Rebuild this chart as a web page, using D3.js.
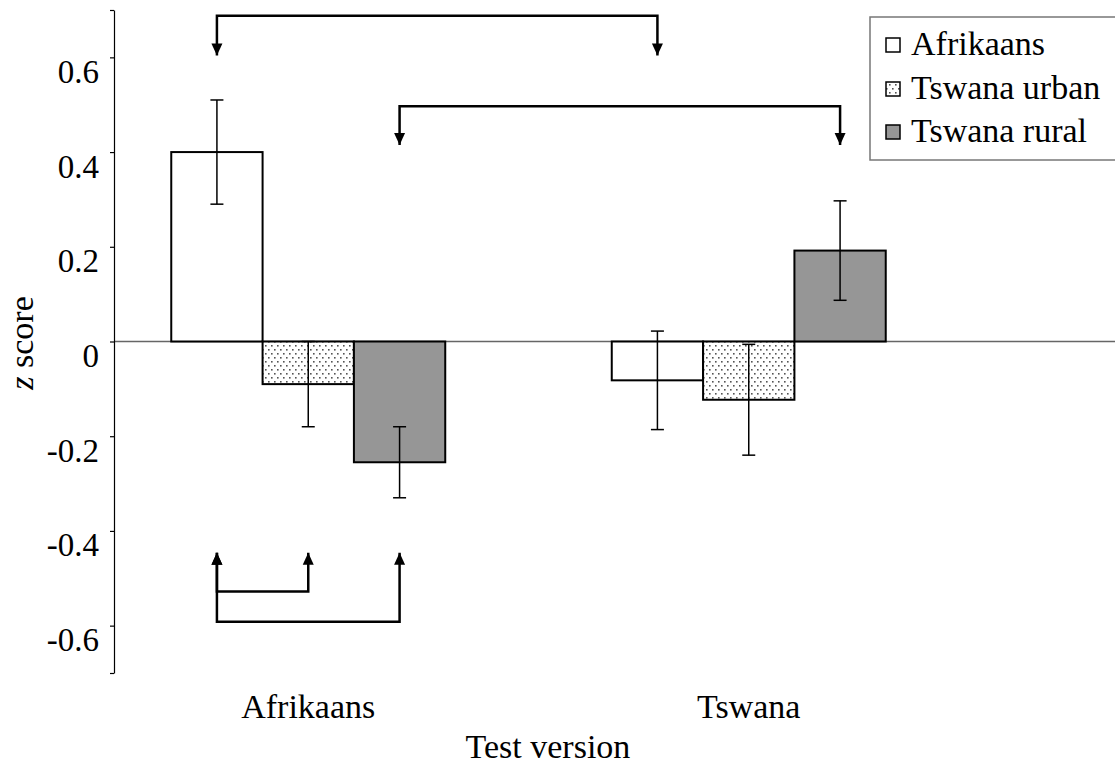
<!DOCTYPE html>
<html>
<head>
<meta charset="utf-8">
<script src="https://cdn.jsdelivr.net/npm/d3@7"></script>
<style>
  body { margin: 0; background: #fff; }
  text { font-family: "Liberation Serif", "Times New Roman", serif; fill: #000; }
</style>
</head>
<body>
<div id="chart"></div>
<script>
// groups on the x axis and the three listener groups
var testVersions = ["Afrikaans", "Tswana"];
var listeners = ["Afrikaans", "Tswana urban", "Tswana rural"];

// mean z scores, one array per listener group (Afrikaans test, Tswana test)
var afrikaansMeans = [0.40, -0.082];
var urbanMeans = [-0.09, -0.123];
var ruralMeans = [-0.255, 0.192];

// standard errors
var afrikaansErr = [0.11, 0.104];
var urbanErr = [0.09, 0.117];
var ruralErr = [0.075, 0.105];

var yTicks = [-0.7, -0.6, -0.4, -0.2, 0, 0.2, 0.4, 0.6, 0.7];

// significance brackets: from/to are [test version, listener], level and tip in z units
var brackets = [
  { from: ["Afrikaans", "Afrikaans"], to: ["Tswana", "Afrikaans"], level: 0.688, tip: 0.604 },
  { from: ["Afrikaans", "Tswana rural"], to: ["Tswana", "Tswana rural"], level: 0.497, tip: 0.415 },
  { from: ["Afrikaans", "Afrikaans"], to: ["Afrikaans", "Tswana urban"], level: -0.528, tip: -0.446 },
  { from: ["Afrikaans", "Afrikaans"], to: ["Afrikaans", "Tswana rural"], level: -0.592, tip: -0.446 }
];

var means = [afrikaansMeans, urbanMeans, ruralMeans];
var errs = [afrikaansErr, urbanErr, ruralErr];
var data = [];
testVersions.forEach(function (t, i) {
  listeners.forEach(function (l, j) {
    data.push({ test: t, listener: l, value: means[j][i], err: errs[j][i] });
  });
});

var width = 1115;
var height = 775;

var svg = d3.select("#chart").append("svg")
  .attr("width", width)
  .attr("height", height);

var defs = svg.append("defs");

var dots = defs.append("pattern")
  .attr("id", "dots")
  .attr("patternUnits", "userSpaceOnUse")
  .attr("width", 6)
  .attr("height", 8);
dots.append("rect").attr("width", 6).attr("height", 8).attr("fill", "#fff");
dots.append("rect").attr("x", 1).attr("y", 1).attr("width", 1.6).attr("height", 1.6).attr("fill", "#555");
dots.append("rect").attr("x", 4).attr("y", 5).attr("width", 1.6).attr("height", 1.6).attr("fill", "#555");

defs.append("marker")
  .attr("id", "head")
  .attr("markerUnits", "userSpaceOnUse")
  .attr("viewBox", "0 0 12 12")
  .attr("refX", 12)
  .attr("refY", 6)
  .attr("markerWidth", 12)
  .attr("markerHeight", 12)
  .attr("orient", "auto-start-reverse")
  .append("path")
  .attr("d", "M0,0.5 L12,6 L0,11.5 Z")
  .attr("fill", "#000");

var fills = {
  "Afrikaans": "#fff",
  "Tswana urban": "url(#dots)",
  "Tswana rural": "#969696"
};

var yScale = d3.scaleLinear([-0.7, 0.7], [673, 10]);

var xScale = d3.scaleBand(testVersions, [88, 969])
  .paddingInner(0.378)
  .paddingOuter(0.189);

var xInner = d3.scaleBand(listeners, [0, xScale.bandwidth()]);

function barCenter(t, l) {
  return xScale(t) + xInner(l) + xInner.bandwidth() / 2;
}

// zero line
svg.append("line")
  .attr("x1", 114)
  .attr("x2", width)
  .attr("y1", yScale(0))
  .attr("y2", yScale(0))
  .attr("stroke", "#666")
  .attr("stroke-width", 1.5);

// y axis
var yAxis = d3.axisLeft(yScale)
  .tickValues(yTicks)
  .tickSize(4)
  .tickSizeOuter(0)
  .tickFormat(function (d) {
    if (Math.abs(d) > 0.65) return "";
    if (d === 0) return "0";
    return d3.format(".1f")(d).replace("\u2212", "-");
  });

var gy = svg.append("g")
  .attr("transform", "translate(114, 0)")
  .call(yAxis);
gy.select(".domain").attr("stroke", "#000").attr("stroke-width", 1.2);
gy.selectAll(".tick line").attr("stroke", "#000").attr("stroke-width", 1.2);
gy.selectAll(".tick text")
  .attr("x", -15)
  .attr("dy", null)
  .attr("y", 25)
  .style("font-family", "'Liberation Serif', serif")
  .style("font-size", "33px")
  .attr("fill", "#000");

svg.append("text")
  .attr("transform", "translate(33, 343) rotate(-90)")
  .attr("text-anchor", "middle")
  .style("font-size", "34px")
  .call(function (t) {
    t.append("tspan").style("font-style", "italic").text("z");
    t.append("tspan").text(" score");
  });

// bars
svg.append("g")
  .selectAll("rect")
  .data(data)
  .join("rect")
  .attr("x", function (d) { return xScale(d.test) + xInner(d.listener); })
  .attr("y", function (d) { return yScale(Math.max(0, d.value)); })
  .attr("width", xInner.bandwidth())
  .attr("height", function (d) { return Math.abs(yScale(d.value) - yScale(0)); })
  .attr("fill", function (d) { return fills[d.listener]; })
  .attr("stroke", "#000")
  .attr("stroke-width", 2);

// error bars
var eb = svg.append("g")
  .selectAll("g")
  .data(data)
  .join("g")
  .attr("stroke", "#000")
  .attr("stroke-width", 1.5);

eb.append("line")
  .attr("x1", function (d) { return barCenter(d.test, d.listener); })
  .attr("x2", function (d) { return barCenter(d.test, d.listener); })
  .attr("y1", function (d) { return yScale(d.value + d.err); })
  .attr("y2", function (d) { return yScale(d.value - d.err); });

[1, -1].forEach(function (s) {
  eb.append("line")
    .attr("x1", function (d) { return barCenter(d.test, d.listener) - 6.5; })
    .attr("x2", function (d) { return barCenter(d.test, d.listener) + 6.5; })
    .attr("y1", function (d) { return yScale(d.value + s * d.err); })
    .attr("y2", function (d) { return yScale(d.value + s * d.err); });
});

// significance brackets
svg.append("g")
  .selectAll("path")
  .data(brackets)
  .join("path")
  .attr("d", function (d) {
    var x1 = barCenter(d.from[0], d.from[1]);
    var x2 = barCenter(d.to[0], d.to[1]);
    return "M" + x1 + "," + yScale(d.tip) +
      "L" + x1 + "," + yScale(d.level) +
      "L" + x2 + "," + yScale(d.level) +
      "L" + x2 + "," + yScale(d.tip);
  })
  .attr("fill", "none")
  .attr("stroke", "#000")
  .attr("stroke-width", 2.5)
  .attr("marker-start", "url(#head)")
  .attr("marker-end", "url(#head)");

// x labels
svg.append("g")
  .selectAll("text")
  .data(testVersions)
  .join("text")
  .attr("x", function (d) { return xScale(d) + xScale.bandwidth() / 2; })
  .attr("y", 718)
  .attr("text-anchor", "middle")
  .style("font-size", "34px")
  .text(function (d) { return d; });

svg.append("text")
  .attr("x", 548)
  .attr("y", 758)
  .attr("text-anchor", "middle")
  .style("font-size", "34px")
  .text("Test version");

// legend
var legend = svg.append("g");
legend.append("rect")
  .attr("x", 870)
  .attr("y", 17)
  .attr("width", 270)
  .attr("height", 143)
  .attr("fill", "#fff")
  .attr("stroke", "#777")
  .attr("stroke-width", 1.5);

var items = legend.selectAll("g.item")
  .data(listeners)
  .join("g")
  .attr("class", "item")
  .attr("transform", function (d, i) {
    return "translate(0," + [55, 99, 142][i] + ")";
  });

items.append("rect")
  .attr("x", 886)
  .attr("y", -17)
  .attr("width", 14)
  .attr("height", 14)
  .attr("fill", function (d) { return fills[d]; })
  .attr("stroke", "#000")
  .attr("stroke-width", 1.5);

items.append("text")
  .attr("x", 911)
  .attr("y", 0)
  .style("font-size", "34px")
  .text(function (d) { return d; });
</script>
</body>
</html>
